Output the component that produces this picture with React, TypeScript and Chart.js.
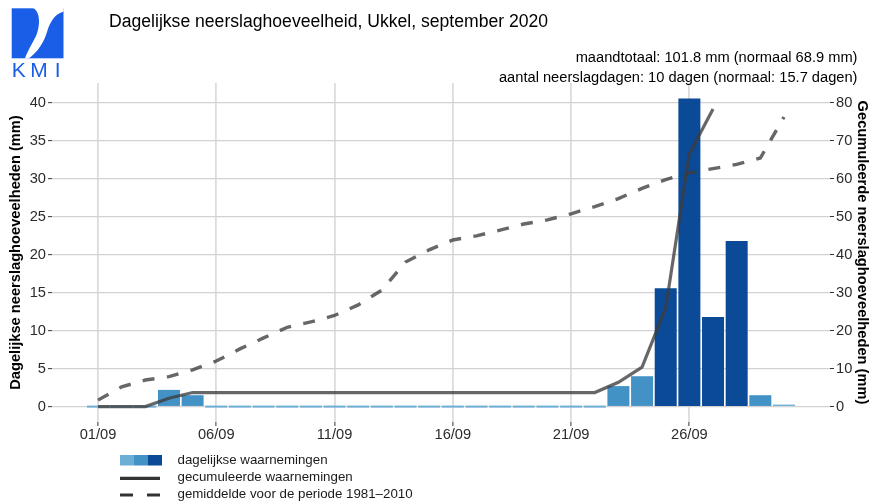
import React, { useEffect, useRef } from "react";
import { Chart, registerables } from "chart.js";

Chart.register(...registerables);

// ---------- data ----------
const days = [1, 2, 3, 4, 5, 6, 7, 8, 9, 10, 11, 12, 13, 14, 15, 16, 17, 18, 19, 20, 21, 22, 23, 24, 25, 26, 27, 28, 29, 30];
const dailyMm = [0, 0, 0, 2.2, 1.5, 0, 0, 0, 0, 0, 0, 0, 0, 0, 0, 0, 0, 0, 0, 0, 0, 0, 2.7, 4.0, 15.6, 40.6, 11.8, 21.8, 1.5, 0.2];
const cumulativeMm = [0, 0, 0, 2.2, 3.7, 3.7, 3.7, 3.7, 3.7, 3.7, 3.7, 3.7, 3.7, 3.7, 3.7, 3.7, 3.7, 3.7, 3.7, 3.7, 3.7, 3.7, 6.4, 10.4, 26.0, 66.6, 78.4, null, null, null];
const normalCumulativeMm = [1.7, 5.2, 7.0, 7.9, 9.7, 12.0, 15.2, 18.1, 20.9, 22.3, 24.0, 26.8, 30.7, 38.1, 41.3, 43.9, 45.0, 46.5, 48.1, 49.2, 50.8, 52.7, 54.8, 57.5, 59.8, 61.6, 62.7, 63.8, 65.5, 76.3];

const xTickDays = [1, 6, 11, 16, 21, 26];
const xTickLabels = ["01/09", "06/09", "11/09", "16/09", "21/09", "26/09"];
const leftTicks = [0, 5, 10, 15, 20, 25, 30, 35, 40];
const rightTicks = [0, 10, 20, 30, 40, 50, 60, 70, 80];

const titleText = "Dagelijkse neerslaghoeveelheid, Ukkel, september 2020";
const subtitleLines = [
  "maandtotaal: 101.8 mm (normaal 68.9 mm)",
  "aantal neerslagdagen: 10 dagen (normaal: 15.7 dagen)",
];
const legendLabels = [
  "dagelijkse waarnemingen",
  "gecumuleerde waarnemingen",
  "gemiddelde voor de periode 1981–2010",
];
const leftAxisTitle = "Dagelijkse neerslaghoeveelheden (mm)";
const rightAxisTitle = "Gecumuleerde neerslaghoeveelheden (mm)";
const logoText = ["K", "M", "I"];

// ---------- styles ----------
const FONT = '"Liberation Sans", Arial, Helvetica, sans-serif';
const LIGHT = "#6baed6";
const MID = "#4292c6";
const DARK = "#0a4a97";
const LINE = "rgba(60,60,60,0.78)";
const LOGO_BLUE = "#1a5ee8";

const barColor = (v: number) => (v >= 10 ? DARK : v >= 1 ? MID : LIGHT);

const decorPlugin = {
  id: "decor",
  afterDraw(chart: any) {
    const ctx = chart.ctx as CanvasRenderingContext2D;
    ctx.save();

    // logo
    ctx.fillStyle = LOGO_BLUE;
    ctx.fillRect(11.7, 8.3, 51.8, 50);
    ctx.fillStyle = "#ffffff";
    ctx.beginPath();
    ctx.moveTo(33, 8);
    ctx.bezierCurveTo(41, 12, 40, 27, 36, 36);
    ctx.bezierCurveTo(32, 44, 27, 52, 25, 58.6);
    ctx.lineTo(28.5, 58.6);
    ctx.bezierCurveTo(38, 52, 44, 42, 47, 32);
    ctx.bezierCurveTo(50, 22, 55, 14, 63.6, 11.6);
    ctx.lineTo(63.6, 8);
    ctx.closePath();
    ctx.fill();
    ctx.fillStyle = LOGO_BLUE;
    ctx.font = `21px ${FONT}`;
    ctx.textBaseline = "alphabetic";
    ctx.textAlign = "left";
    const logoX = [11.8, 30.2, 54.8];
    logoText.forEach((t, i) => ctx.fillText(t, logoX[i], 76.7));

    // title
    ctx.fillStyle = "#000000";
    ctx.font = `17.6px ${FONT}`;
    ctx.textAlign = "left";
    ctx.fillText(titleText, 109, 27);

    // subtitles
    ctx.font = `14.67px ${FONT}`;
    ctx.textAlign = "right";
    ctx.fillText(subtitleLines[0], 857.5, 62);
    ctx.fillText(subtitleLines[1], 857.5, 82);

    // legend
    ctx.fillStyle = LIGHT;
    ctx.fillRect(120, 455, 14, 10.5);
    ctx.fillStyle = MID;
    ctx.fillRect(134, 455, 14, 10.5);
    ctx.fillStyle = DARK;
    ctx.fillRect(148, 455, 14, 10.5);

    ctx.strokeStyle = "#333333";
    ctx.lineWidth = 3.2;
    ctx.beginPath();
    ctx.moveTo(120, 478.3);
    ctx.lineTo(160, 478.3);
    ctx.stroke();
    ctx.beginPath();
    ctx.moveTo(120, 495);
    ctx.lineTo(133, 495);
    ctx.moveTo(147, 495);
    ctx.lineTo(160, 495);
    ctx.stroke();

    ctx.fillStyle = "#1a1a1a";
    ctx.font = `13.3px ${FONT}`;
    ctx.textAlign = "left";
    ctx.fillText(legendLabels[0], 177.5, 464.3);
    ctx.fillText(legendLabels[1], 177.5, 481.3);
    ctx.fillText(legendLabels[2], 177.5, 497.8);

    ctx.restore();
  },
};

export default function App() {
  const canvasRef = useRef<HTMLCanvasElement | null>(null);

  useEffect(() => {
    const canvas = canvasRef.current;
    if (!canvas) return;

    const chart = new Chart(canvas, {
      type: "bar",
      data: {
        datasets: [
          {
            type: "line",
            label: legendLabels[2],
            data: days.map((d, i) => ({ x: d, y: normalCumulativeMm[i] })),
            yAxisID: "y2",
            xAxisID: "x",
            borderColor: LINE,
            borderWidth: 3.4,
            borderDash: [12, 12.5],
            pointRadius: 0,
            tension: 0,
            fill: false,
            order: 0,
          } as any,
          {
            type: "line",
            label: legendLabels[1],
            data: days.map((d, i) => ({ x: d, y: cumulativeMm[i] })),
            yAxisID: "y2",
            xAxisID: "x",
            borderColor: LINE,
            borderWidth: 3.2,
            pointRadius: 0,
            tension: 0,
            spanGaps: false,
            fill: false,
            order: 0,
          } as any,
          {
            type: "bar",
            label: legendLabels[0],
            data: days.map((d, i) => ({ x: d, y: dailyMm[i] })),
            yAxisID: "y",
            xAxisID: "x",
            backgroundColor: dailyMm.map(barColor),
            borderWidth: 0,
            minBarLength: 2,
            barPercentage: 0.93,
            categoryPercentage: 1,
            order: 1,
          } as any,
        ],
      },
      options: {
        responsive: false,
        animation: false,
        devicePixelRatio: 1,
        layout: { padding: { top: 83, left: 0, right: 0, bottom: 0 } },
        plugins: {
          legend: { display: false },
          tooltip: { enabled: false },
          title: { display: false },
        },
        scales: {
          x: {
            type: "linear",
            position: "bottom",
            min: -0.945,
            max: 31.945,
            offset: false,
            afterBuildTicks: (s: any) => {
              s.ticks = xTickDays.map((v) => ({ value: v }));
            },
            afterFit: (s: any) => {
              s.height = 80;
            },
            ticks: {
              autoSkip: false,
              maxRotation: 0,
              minRotation: 0,
              padding: 0,
              color: "#2b2b2b",
              font: { family: FONT, size: 14.67 },
              callback: (v: any) => {
                const i = xTickDays.indexOf(Number(v));
                return i >= 0 ? xTickLabels[i] : "";
              },
            },
            grid: {
              offset: false,
              color: "#dcdcdc",
              lineWidth: 1.8,
              drawTicks: true,
              tickLength: 4,
              tickColor: "#333333",
              tickWidth: 1,
            },
            border: { display: false },
          },
          y: {
            type: "linear",
            position: "left",
            min: -2.03,
            max: 42.63,
            afterBuildTicks: (s: any) => {
              s.ticks = leftTicks.map((v) => ({ value: v }));
            },
            afterFit: (s: any) => {
              s.width = 52;
            },
            ticks: {
              padding: 2,
              color: "#2b2b2b",
              font: { family: FONT, size: 14.67 },
              callback: (v: any) => String(v),
            },
            grid: {
              color: "#d2d2d2",
              lineWidth: 1.3,
              drawTicks: true,
              tickLength: 4,
              tickColor: "#333333",
              tickWidth: 1,
            },
            border: { display: false },
            title: {
              display: true,
              text: leftAxisTitle,
              color: "#000000",
              font: { family: FONT, size: 14.67, weight: "bold" },
              padding: { top: 7, bottom: 0 },
            },
          },
          y2: {
            type: "linear",
            position: "right",
            min: -4.06,
            max: 85.26,
            afterBuildTicks: (s: any) => {
              s.ticks = rightTicks.map((v) => ({ value: v }));
            },
            afterFit: (s: any) => {
              s.width = 41;
            },
            ticks: {
              padding: 2,
              color: "#2b2b2b",
              font: { family: FONT, size: 14.67 },
              callback: (v: any) => String(v),
            },
            grid: {
              drawOnChartArea: false,
              drawTicks: true,
              tickLength: 4,
              tickColor: "#333333",
              tickWidth: 1,
            },
            border: { display: false },
            title: {
              display: true,
              text: rightAxisTitle,
              color: "#000000",
              font: { family: FONT, size: 14.67, weight: "bold" },
              padding: { top: 0, bottom: 0 },
            },
          },
        },
      } as any,
      plugins: [decorPlugin],
    });

    return () => {
      chart.destroy();
    };
  }, []);

  return (
    <div style={{ position: "absolute", left: 0, top: 0, width: 871, height: 502, background: "#ffffff" }}>
      <canvas ref={canvasRef} width={871} height={502} style={{ display: "block", width: 871, height: 502 }} />
    </div>
  );
}
